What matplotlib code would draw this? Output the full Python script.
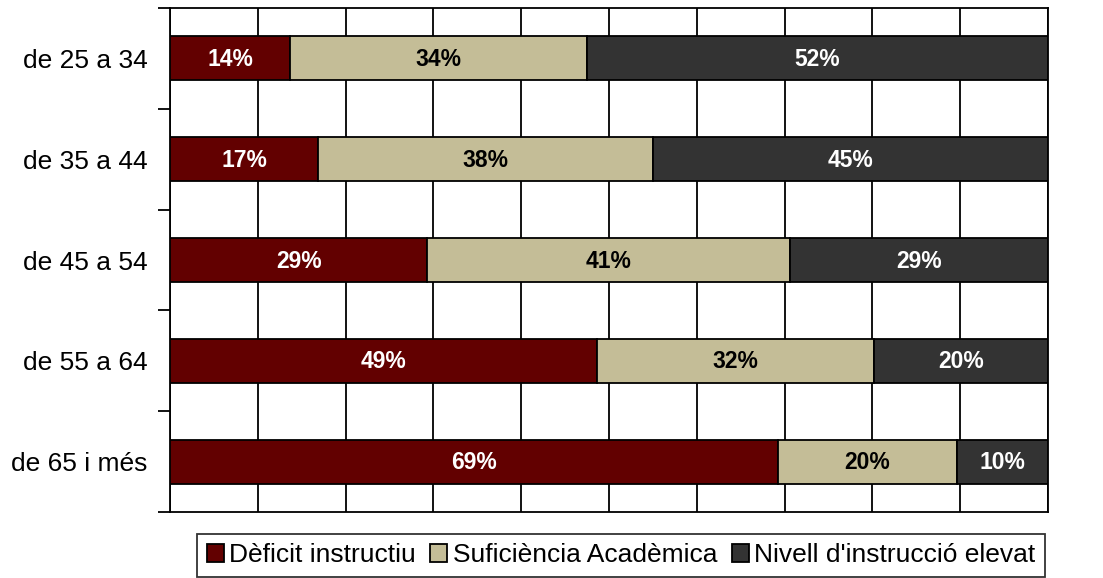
import matplotlib
matplotlib.use("Agg")
import matplotlib.pyplot as plt
import numpy as np

plt.rcParams['font.family'] = ['Liberation Sans', 'DejaVu Sans']

categories = ["de 25 a 34", "de 35 a 44", "de 45 a 54", "de 55 a 64", "de 65 i més"]
series_names = ["Dèficit instructiu", "Suficiència Acadèmica", "Nivell d'instrucció elevat"]
deficit = [13.7, 16.9, 29.3, 48.6, 69.2]
suficiencia = [33.8, 38.1, 41.3, 31.6, 20.4]
elevat = [52.5, 45.0, 29.4, 19.8, 10.4]
labels_deficit = ["14%", "17%", "29%", "49%", "69%"]
labels_suficiencia = ["34%", "38%", "41%", "32%", "20%"]
labels_elevat = ["52%", "45%", "29%", "20%", "10%"]

colors = ["#620000", "#C4BD97", "#333333"]
text_colors = ["white", "black", "white"]

fig = plt.figure(figsize=(11.03, 5.78), dpi=100)
ax = fig.add_axes([170/1103, 1-512/578, (1048-170)/1103, (512-8)/578])

y = np.arange(len(categories))
left = np.zeros(len(categories))
ax.set_axisbelow(True)
for vals, labs, col, tc, name in zip([deficit, suficiencia, elevat],
                                      [labels_deficit, labels_suficiencia, labels_elevat],
                                      colors, text_colors, series_names):
    ax.barh(y, vals, left=left, height=0.435, color=col, edgecolor="black",
            linewidth=1.3, label=name, zorder=3)
    for yi, l, v, lab in zip(y, left, vals, labs):
        ax.text(l + v/2, yi + 0.01, lab, ha="center", va="center", color=tc,
                fontsize=16.5, fontweight="bold", zorder=4)
    left = left + np.array(vals)

ax.set_xlim(0, 100)
ax.set_ylim(len(categories) - 0.5, -0.5)
ax.set_xticks(np.arange(0, 101, 10))
ax.tick_params(axis="x", length=0, labelbottom=False)
ax.xaxis.grid(True, color="black", linewidth=1.3)
ax.set_yticks(np.arange(-0.5, len(categories), 1.0))
ax.set_yticklabels([])
ax.set_yticks(y, minor=True)
ax.set_yticklabels(categories, minor=True, fontsize=19)
ax.tick_params(axis="y", which="major", direction="out", length=9, width=1.3)
ax.tick_params(axis="y", which="minor", length=0, pad=16)
for s in ax.spines.values():
    s.set_linewidth(1.3)
    s.set_color("black")

leg = fig.legend(loc="lower center", bbox_to_anchor=(0.563, 0.0), ncol=3, fontsize=19,
                 frameon=True, fancybox=False, edgecolor="black", handlelength=0.65,
                 handleheight=0.65, handletextpad=0.2, columnspacing=0.55,
                 borderpad=0.35, borderaxespad=0.05)
leg.get_frame().set_linewidth(1.3)

fig.savefig("out.png", dpi=100, facecolor="white")
